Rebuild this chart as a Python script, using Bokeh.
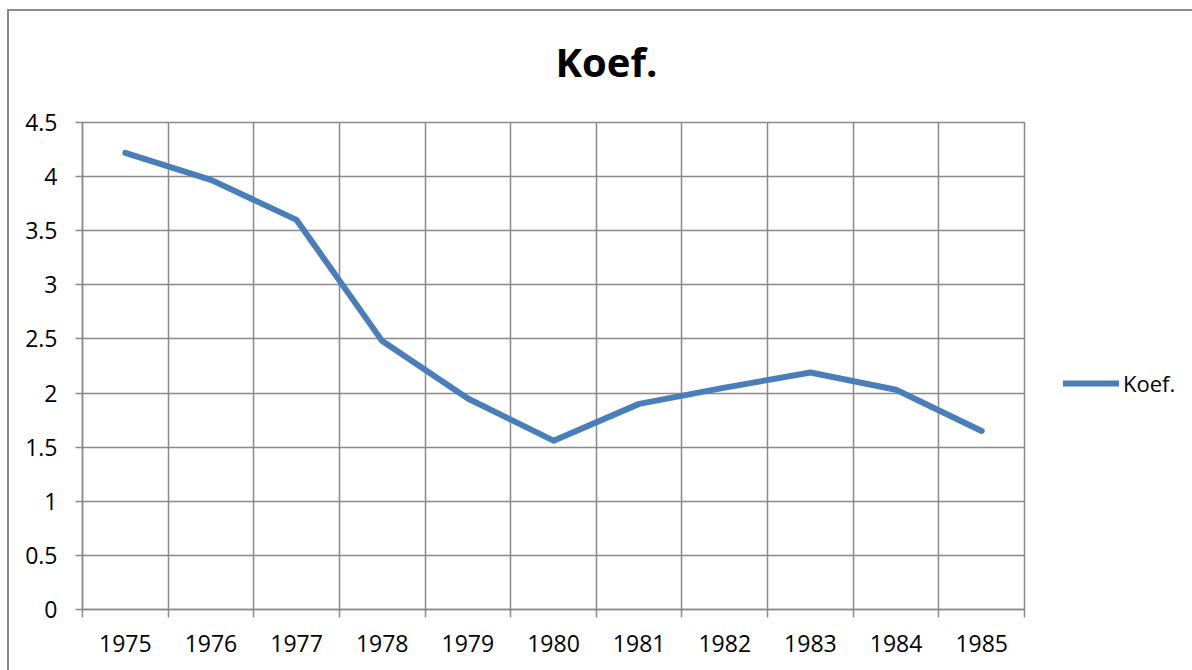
from bokeh.plotting import figure
from bokeh.models import (FixedTicker, Range1d, Legend, LegendItem,
                          CustomJSTickFormatter, NumeralTickFormatter)
from bokeh.embed import file_html
from bokeh.resources import INLINE

# ---- data ----
years = ["1975", "1976", "1977", "1978", "1979", "1980",
         "1981", "1982", "1983", "1984", "1985"]
koef = [4.22, 3.97, 3.60, 2.48, 1.95, 1.56, 1.90, 2.05, 2.19, 2.03, 1.65]
y_ticks = [0, 0.5, 1, 1.5, 2, 2.5, 3, 3.5, 4, 4.5]
series_name = "Koef."
title_text = "Koef."

n = len(years)
x_centers = [i + 0.5 for i in range(n)]
x_bounds = list(range(n + 1))

FONT = "Open Sans"
GRID = "#8a8a8a"
LINE = "#4A7EBB"

p = figure(width=1192, height=670, frame_width=942, frame_height=487,
           output_backend="svg", toolbar_location=None,
           x_range=Range1d(0, n), y_range=Range1d(y_ticks[0], y_ticks[-1]),
           min_border_left=82, min_border_right=168,
           min_border_top=122, min_border_bottom=61)
# outer chart-area border (left and top edges; right/bottom fall outside the view)
p.border_fill_alpha = 0
p.styles = {
    "background": ("linear-gradient(#8a8a8a,#8a8a8a) 7px 9px / 2px 661px no-repeat, "
                   "linear-gradient(#8a8a8a,#8a8a8a) 7px 9px / 1185px 2px no-repeat, #ffffff"),
}

p.title.text = title_text
p.title.align = "left"
p.title.vertical_align = "top"
p.title.text_font = FONT
p.title.text_font_style = "bold"
p.title.text_font_size = "40px"
p.title.text_color = "#000000"
p.title.offset = 473
p.title.standoff = 64

r = p.line(x_centers, koef, line_color=LINE, line_width=6,
           line_cap="round", line_join="round")

# x axis
xa = p.xaxis[0]
xa.ticker = FixedTicker(ticks=x_centers, minor_ticks=x_bounds)
xa.formatter = CustomJSTickFormatter(args=dict(labels=years),
                                     code="return labels[Math.floor(tick)];")
xa.major_tick_out = 0
xa.major_tick_in = 0
xa.minor_tick_out = 8
xa.minor_tick_in = 0
xa.minor_tick_line_color = GRID
xa.minor_tick_line_width = 1.5
xa.axis_line_color = GRID
xa.axis_line_width = 1.5
xa.major_label_standoff = 17
xa.major_label_text_font = FONT
xa.major_label_text_font_size = "23px"
xa.major_label_text_color = "#000000"

# y axis
ya = p.yaxis[0]
ya.ticker = FixedTicker(ticks=y_ticks)
ya.formatter = NumeralTickFormatter(format="0.[0]")
ya.major_tick_out = 7
ya.major_tick_in = 0
ya.minor_tick_out = 0
ya.minor_tick_in = 0
ya.major_tick_line_color = GRID
ya.major_tick_line_width = 1.5
ya.axis_line_color = GRID
ya.axis_line_width = 1.5
ya.major_label_standoff = 18
ya.major_label_text_font = FONT
ya.major_label_text_font_size = "23px"
ya.major_label_text_color = "#000000"

# grids
p.xgrid.grid_line_color = None
p.xgrid.minor_grid_line_color = GRID
p.xgrid.minor_grid_line_width = 1.5
p.ygrid.grid_line_color = GRID
p.ygrid.grid_line_width = 1.5
p.outline_line_color = GRID
p.outline_line_width = 1.5

# legend (right panel, offset from the frame)
legend = Legend(items=[LegendItem(label=series_name, renderers=[r])],
                location=(39, 211), orientation="vertical",
                glyph_width=56, glyph_height=20, label_height=20,
                label_standoff=4, padding=0, margin=0, spacing=0,
                border_line_color=None, background_fill_alpha=0,
                label_text_font=FONT, label_text_font_size="22px",
                label_text_color="#000000")
p.add_layout(legend, "right")

open("out.html", "w").write(file_html(p, INLINE))
